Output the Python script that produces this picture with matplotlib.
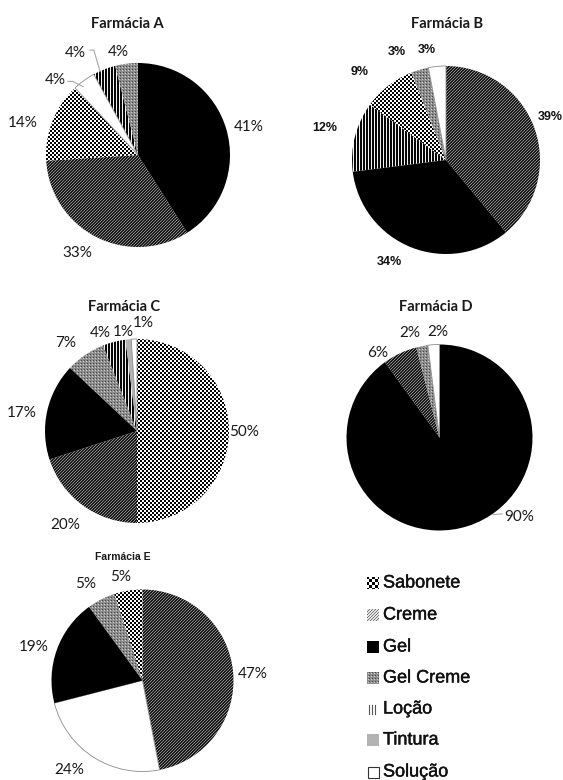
import numpy as np
import matplotlib
matplotlib.use("Agg")
import matplotlib.pyplot as plt
import matplotlib.patheffects as pe
from matplotlib.patches import Rectangle

W, H, DPI = 563, 780, 100

# Product categories (legend order)
categories = ["Sabonete", "Creme", "Gel", "Gel Creme", "Loção", "Tintura", "Solução"]

# Share of each product per pharmacy (%), clockwise from 12 o'clock
farm_a_cats = ["Gel", "Creme", "Sabonete", "Solução", "Loção", "Gel Creme"]
farm_a_vals = [41, 33, 14, 4, 4, 4]

farm_b_cats = ["Creme", "Gel", "Loção", "Sabonete", "Gel Creme", "Solução"]
farm_b_vals = [39, 34, 12, 9, 3, 3]

farm_c_cats = ["Sabonete", "Creme", "Gel", "Gel Creme", "Loção", "Tintura", "Solução"]
farm_c_vals = [50, 20, 17, 7, 4, 1, 1]

farm_d_cats = ["Gel", "Creme", "Gel Creme", "Solução"]
farm_d_vals = [90, 6, 2, 2]

farm_e_cats = ["Creme", "Solução", "Gel", "Gel Creme", "Sabonete"]
farm_e_vals = [47, 24, 19, 5, 5]

SOLID = {"Gel": "#000000", "Tintura": "#b3b3b3", "Solução": "#ffffff"}
TEXTURED = {"Sabonete", "Creme", "Gel Creme", "Loção"}

CALIBRI_LIKE = "Lato"
ARIAL_LIKE = "Liberation Sans"


def texture(kind, h, w, i0=0, j0=0, legend=False):
    """Grey-level fill pattern in screen pixels."""
    i, j = np.mgrid[i0:i0 + h, j0:j0 + w]
    if kind == "Sabonete":
        s = 3 if legend else 2
        return np.where(((i // s) + (j // s)) % 2 == 0, 0.0, 1.0)
    if kind == "Creme":
        if legend:
            return np.where((i + j) % 3 == 0, 0.45, 0.9)
        return np.where((i + j) % 3 == 0, 0.55, 0.1)
    if kind == "Gel Creme":
        t = np.full((h, w), 0.55)
        t[(i % 3 == 0) & (j % 3 == 0)] = 0.28
        t[(i % 3 == 1) & (j % 3 == 2)] = 0.8
        return t
    if kind == "Loção":
        return np.where(j % 3 == 2, 0.95, 0.03)
    return np.ones((h, w))


fig = plt.figure(figsize=(W / DPI, H / DPI), dpi=DPI)
fig.patch.set_facecolor("white")


def draw_pie(cx, cy, r, cats, vals, label_pos, font, leaders=()):
    size = int(round(3.0 * r))
    left = int(round(cx - size / 2))
    top = int(round(cy - size / 2))
    ax = fig.add_axes([left / W, 1 - (top + size) / H, size / W, size / H])
    wedges, _ = ax.pie(vals, startangle=90, counterclock=False, radius=1,
                       colors=[SOLID.get(c, "none") for c in cats],
                       wedgeprops=dict(linewidth=0))
    half = size / 2 / r
    ext = (-half, half, -half, half)
    for w, c in zip(wedges, cats):
        if c in TEXTURED:
            im = ax.imshow(texture(c, size, size, top, left), cmap="gray",
                           vmin=0, vmax=1, extent=ext, interpolation="nearest",
                           zorder=w.get_zorder() - 0.5)
            im.set_clip_path(w)
        if c == "Solução":
            w.set_edgecolor("#8c8c8c")
            w.set_linewidth(0.6)
    ax.set_xlim(-half, half)
    ax.set_ylim(-half, half)
    ax.axis("off")
    for v, (x, y) in zip(vals, label_pos):
        ax.text(x, y, f"{v}%", ha="center", va="center", **font)
    for pts in leaders:
        xs, ys = zip(*pts)
        ax.plot(xs, ys, color="#a6a6a6", lw=0.8, solid_capstyle="butt")
    return ax


lbl_font = dict(family=CALIBRI_LIKE, fontsize=11, color="#1a1a1a")
lbl_font_b = dict(family=ARIAL_LIKE, fontsize=9, fontweight="bold", color="#111111")

# Farmácia A
draw_pie(138, 155, 92, farm_a_cats, farm_a_vals,
         [(1.20, 0.30), (-0.66, -1.07), (-1.25, 0.35), (-0.90, 0.82),
          (-0.68, 1.11), (-0.21, 1.12)],
         lbl_font,
         leaders=[[(-0.77, 0.80), (-0.71, 0.80), (-0.59, 0.74)],
                  [(-0.53, 1.14), (-0.48, 1.14), (-0.41, 0.90)]])

# Farmácia B
draw_pie(446, 160, 94, farm_b_cats, farm_b_vals,
         [(1.11, 0.46), (-0.60, -1.09), (-1.29, 0.34), (-0.92, 0.94),
          (-0.52, 1.15), (-0.20, 1.17)],
         lbl_font_b)

# Farmácia C
draw_pie(137, 431, 92, farm_c_cats, farm_c_vals,
         [(1.16, -0.01), (-0.78, -1.02), (-1.25, 0.20), (-0.78, 0.96),
          (-0.40, 1.07), (-0.15, 1.08), (0.07, 1.17)],
         lbl_font)

# Farmácia D
draw_pie(440, 437, 93, farm_d_cats, farm_d_vals,
         [(0.86, -0.86), (-0.67, 0.91), (-0.32, 1.12), (-0.02, 1.13)],
         lbl_font,
         leaders=[[(0.57, -0.83), (0.68, -0.82)]])

# Farmácia E
draw_pie(142, 681, 91, farm_e_cats, farm_e_vals,
         [(1.21, 0.07), (-0.81, -0.98), (-1.20, 0.37), (-0.63, 1.06),
          (-0.24, 1.14)],
         lbl_font)

# Titles
title_font = dict(family=CALIBRI_LIKE, fontsize=10.5, fontweight="bold",
                  color="#1a1a1a", ha="center", va="center")
fig.text(127 / W, 1 - 24 / H, "Farmácia A", **title_font)
fig.text(447 / W, 1 - 24 / H, "Farmácia B", **title_font)
fig.text(124 / W, 1 - 307 / H, "Farmácia C", **title_font)
fig.text(436 / W, 1 - 307 / H, "Farmácia D", **title_font)
fig.text(123 / W, 1 - 557 / H, "Farmácia E", family=ARIAL_LIKE, fontsize=7.5,
         fontweight="bold", color="#1a1a1a", ha="center", va="center")

# Legend drawn in pixel coordinates
ov = fig.add_axes([0, 0, 1, 1])
ov.set_xlim(0, W)
ov.set_ylim(H, 0)
ov.axis("off")
row_y = [583, 615, 647, 678, 709, 740, 772]
x0, sz = 367, 12
for cat, yc in zip(categories, row_y):
    top = int(round(yc - sz / 2))
    if cat in ("Sabonete", "Creme", "Gel Creme"):
        ov.imshow(texture(cat, sz, sz, top, x0, legend=True), cmap="gray",
                  vmin=0, vmax=1, extent=(x0, x0 + sz, top + sz, top),
                  interpolation="nearest")
    elif cat == "Loção":
        for dx in (2, 5, 8):
            ov.plot([x0 + dx, x0 + dx], [top + 2, top + sz - 1],
                    color="#555555", lw=0.8)
    elif cat == "Solução":
        ov.add_patch(Rectangle((x0 + 0.5, top + 0.5), sz - 1, sz - 1,
                               facecolor="white", edgecolor="#333333", lw=0.8))
    else:
        ov.add_patch(Rectangle((x0, top), sz, sz, facecolor=SOLID[cat],
                               edgecolor="none"))
    ov.text(383, yc, cat, family=ARIAL_LIKE, fontsize=13, color="#111111",
            ha="left", va="center",
            path_effects=[pe.withStroke(linewidth=0.3, foreground="#111111")])
ov.set_xlim(0, W)
ov.set_ylim(H, 0)

fig.savefig("out.png", dpi=DPI, facecolor="white")
